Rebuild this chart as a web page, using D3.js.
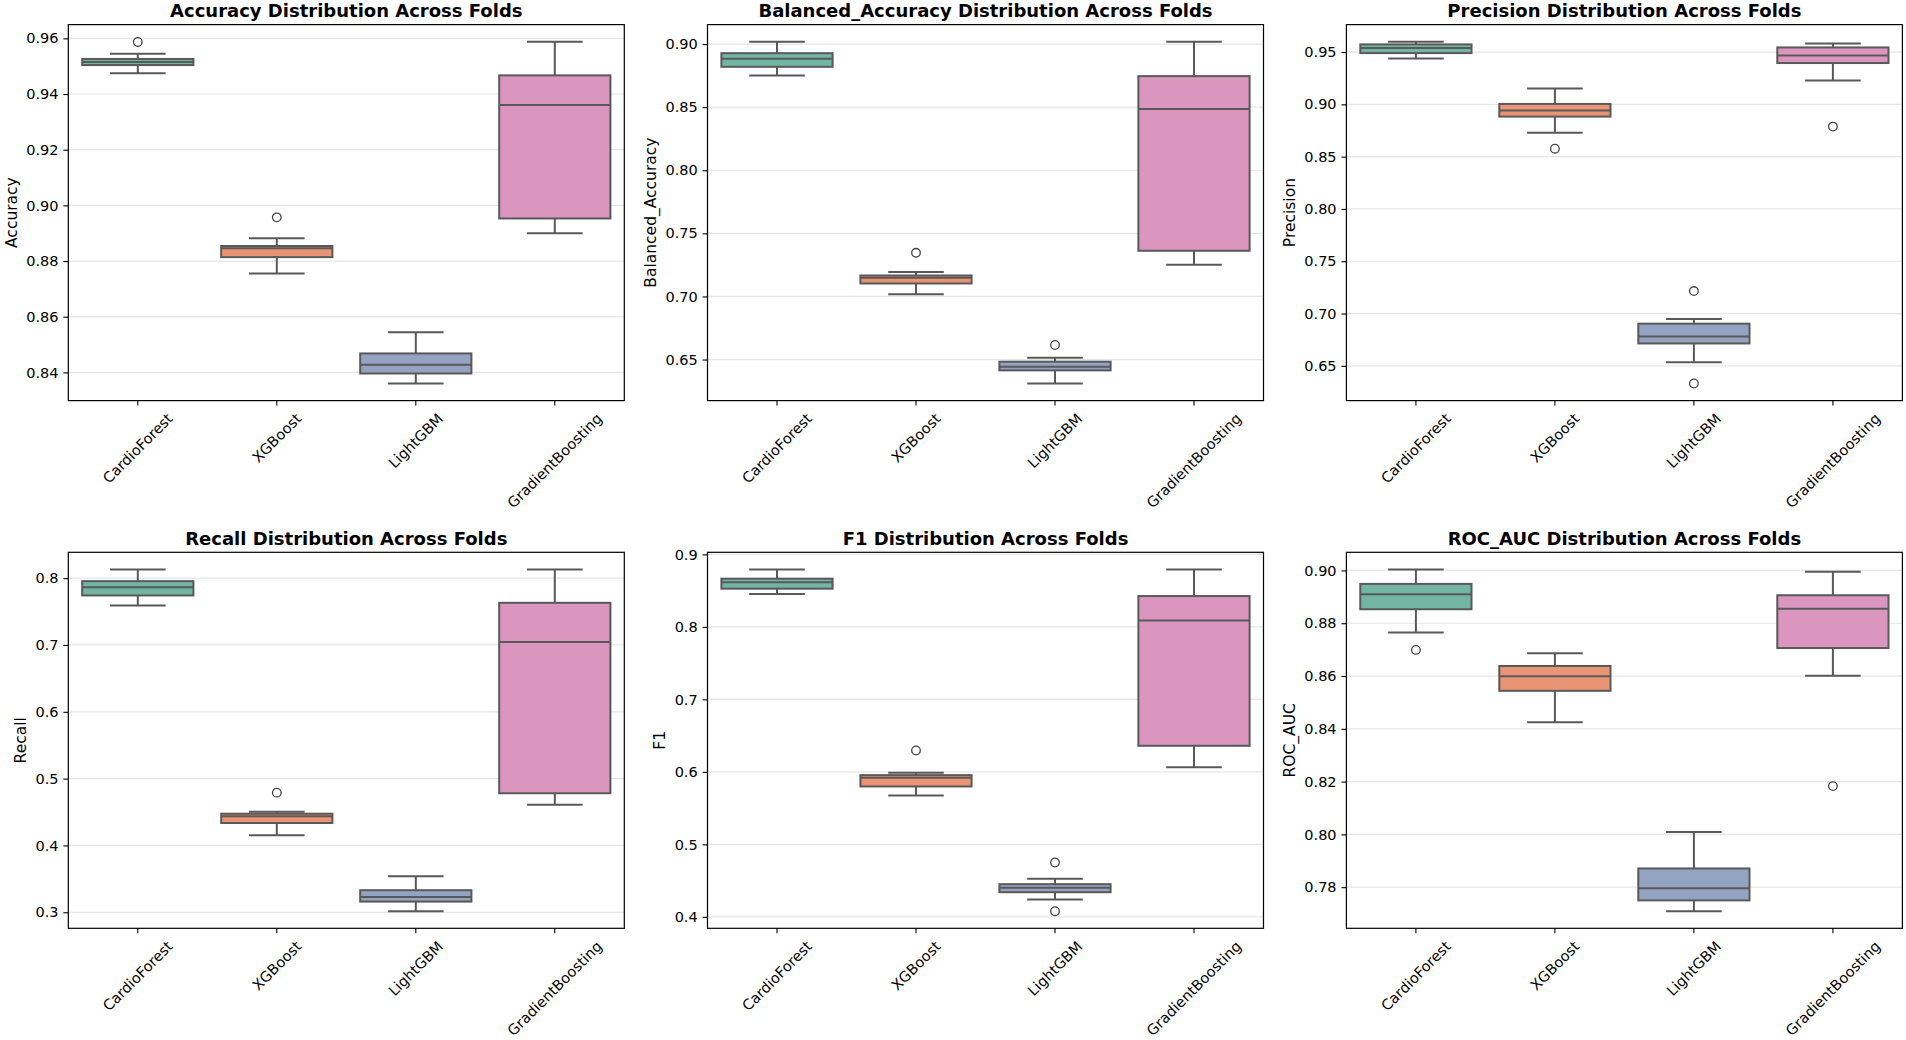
<!DOCTYPE html>
<html>
<head>
<meta charset="utf-8">
<script src="https://cdn.jsdelivr.net/npm/d3@7"></script>
<style>
  body { margin: 0; background: #fff; }
  svg { display: block; font-family: "DejaVu Sans", sans-serif; }
</style>
</head>
<body>
<svg id="chart" width="1906" height="1040"></svg>
<script>
const models = ['CardioForest', 'XGBoost', 'LightGBM', 'GradientBoosting'];
const palette = ['#72b6a1', '#e99575', '#95a3c3', '#db96c0'];

// each box: [lower whisker, q1, median, q3, upper whisker]
const accuracyBoxes = [
    [0.9475, 0.9504, 0.9515, 0.9526, 0.9545],
    [0.8755, 0.8814, 0.8846, 0.8854, 0.8882],
    [0.8360, 0.8396, 0.8427, 0.8468, 0.8544],
    [0.8900, 0.8953, 0.9361, 0.9467, 0.9588]
];
const accuracyOutliers = [[0.9587], [0.8957], [], []];
const accuracyTicks = [0.84, 0.86, 0.88, 0.90, 0.92, 0.94, 0.96];

const balancedBoxes = [
    [0.8751, 0.8820, 0.8883, 0.8928, 0.9019],
    [0.7018, 0.7103, 0.7148, 0.7166, 0.7193],
    [0.6310, 0.6414, 0.6443, 0.6483, 0.6515],
    [0.7251, 0.7362, 0.8486, 0.8746, 0.9019]
];
const balancedOutliers = [[], [0.7346], [0.6615], []];
const balancedTicks = [0.65, 0.70, 0.75, 0.80, 0.85, 0.90];

const precisionBoxes = [
    [0.9439, 0.9490, 0.9538, 0.9573, 0.9599],
    [0.8729, 0.8883, 0.8940, 0.9004, 0.9151],
    [0.6535, 0.6714, 0.6781, 0.6903, 0.6947],
    [0.9228, 0.9395, 0.9468, 0.9544, 0.9582]
];
const precisionOutliers = [[], [0.8576], [0.7215, 0.6331], [0.8787]];
const precisionTicks = [0.65, 0.70, 0.75, 0.80, 0.85, 0.90, 0.95];

const recallBoxes = [
    [0.7591, 0.7741, 0.7865, 0.7955, 0.8131],
    [0.4151, 0.4336, 0.4436, 0.4475, 0.4505],
    [0.3016, 0.3160, 0.3230, 0.3330, 0.3540],
    [0.4610, 0.4781, 0.7046, 0.7631, 0.8131]
];
const recallOutliers = [[], [0.4790], [], []];
const recallTicks = [0.3, 0.4, 0.5, 0.6, 0.7, 0.8];

const f1Boxes = [
    [0.8452, 0.8527, 0.8614, 0.8665, 0.8793],
    [0.5674, 0.5799, 0.5919, 0.5955, 0.5988],
    [0.4239, 0.4340, 0.4401, 0.4451, 0.4525],
    [0.6065, 0.6360, 0.8089, 0.8425, 0.8793]
];
const f1Outliers = [[], [0.6296], [0.4750, 0.4078], []];
const f1Ticks = [0.4, 0.5, 0.6, 0.7, 0.8, 0.9];

const rocBoxes = [
    [0.8765, 0.8853, 0.8910, 0.8949, 0.9004],
    [0.8425, 0.8544, 0.8599, 0.8638, 0.8686],
    [0.7709, 0.7750, 0.7796, 0.7871, 0.8009],
    [0.8601, 0.8706, 0.8855, 0.8906, 0.8995]
];
const rocOutliers = [[0.8699], [], [], [0.8183]];
const rocTicks = [0.78, 0.80, 0.82, 0.84, 0.86, 0.88, 0.90];

const panels = [
    { name: 'Accuracy', boxes: accuracyBoxes, outliers: accuracyOutliers, ticks: accuracyTicks, fmt: '.2f' },
    { name: 'Balanced_Accuracy', boxes: balancedBoxes, outliers: balancedOutliers, ticks: balancedTicks, fmt: '.2f' },
    { name: 'Precision', boxes: precisionBoxes, outliers: precisionOutliers, ticks: precisionTicks, fmt: '.2f' },
    { name: 'Recall', boxes: recallBoxes, outliers: recallOutliers, ticks: recallTicks, fmt: '.1f' },
    { name: 'F1', boxes: f1Boxes, outliers: f1Outliers, ticks: f1Ticks, fmt: '.1f' },
    { name: 'ROC_AUC', boxes: rocBoxes, outliers: rocOutliers, ticks: rocTicks, fmt: '.2f' }
];

const COL_LEFT = [68.3, 707.5, 1346.4];
const ROW_TOP = [24.6, 552.3];
const W = 556;
const H = 376;
const LINE = '#595959';
const TICK = 4.9;
const PAD = 4.9;

const svg = d3.select('#chart');

panels.forEach(function(p, i) {
    drawPanel(p, COL_LEFT[i % 3], ROW_TOP[Math.floor(i / 3)]);
});

function drawPanel(p, left, top) {
    var g = svg.append('g').attr('transform', 'translate(' + left + ',' + top + ')');

    // matplotlib style limits: data range plus 5% margins
    var all = [];
    p.boxes.forEach(function(b, k) { all = all.concat(b, p.outliers[k]); });
    var lo = d3.min(all), hi = d3.max(all), m = (hi - lo) * 0.05;

    var x = d3.scaleBand().domain(models).range([0, W]).padding(0);
    var y = d3.scaleLinear().domain([lo - m, hi + m]).range([H, 0]);

    // grid
    g.append('g')
        .selectAll('line')
        .data(p.ticks)
        .join('line')
        .attr('x1', 0).attr('x2', W)
        .attr('y1', d => y(d)).attr('y2', d => y(d))
        .attr('stroke', '#e6e6e6')
        .attr('stroke-width', 1.2);

    // boxes
    var bw = x.bandwidth() * 0.8;
    var cap = bw / 2;
    var boxes = g.append('g')
        .selectAll('g')
        .data(p.boxes)
        .join('g')
        .attr('transform', (d, k) => 'translate(' + (x(models[k]) + x.bandwidth() / 2) + ',0)');

    boxes.append('line')
        .attr('x1', 0).attr('x2', 0)
        .attr('y1', d => y(d[0])).attr('y2', d => y(d[1]))
        .attr('stroke', LINE).attr('stroke-width', 2);
    boxes.append('line')
        .attr('x1', 0).attr('x2', 0)
        .attr('y1', d => y(d[3])).attr('y2', d => y(d[4]))
        .attr('stroke', LINE).attr('stroke-width', 2);
    boxes.append('line')
        .attr('x1', -cap / 2).attr('x2', cap / 2)
        .attr('y1', d => y(d[0])).attr('y2', d => y(d[0]))
        .attr('stroke', LINE).attr('stroke-width', 2);
    boxes.append('line')
        .attr('x1', -cap / 2).attr('x2', cap / 2)
        .attr('y1', d => y(d[4])).attr('y2', d => y(d[4]))
        .attr('stroke', LINE).attr('stroke-width', 2);
    boxes.append('rect')
        .attr('x', -bw / 2).attr('width', bw)
        .attr('y', d => y(d[3]))
        .attr('height', d => y(d[1]) - y(d[3]))
        .attr('fill', (d, k) => palette[k])
        .attr('stroke', LINE).attr('stroke-width', 2);
    boxes.append('line')
        .attr('x1', -bw / 2).attr('x2', bw / 2)
        .attr('y1', d => y(d[2])).attr('y2', d => y(d[2]))
        .attr('stroke', LINE).attr('stroke-width', 2);

    boxes.each(function(d, k) {
        d3.select(this).selectAll('circle')
            .data(p.outliers[k])
            .join('circle')
            .attr('cx', 0)
            .attr('cy', v => y(v))
            .attr('r', 4.3)
            .attr('fill', 'none')
            .attr('stroke', '#444')
            .attr('stroke-width', 1.3);
    });

    // spines
    g.append('rect')
        .attr('width', W).attr('height', H)
        .attr('fill', 'none')
        .attr('stroke', '#000')
        .attr('stroke-width', 1.2);

    // y axis
    var ya = g.append('g')
        .call(d3.axisLeft(y).tickValues(p.ticks).tickFormat(d3.format(p.fmt))
            .tickSize(TICK).tickPadding(PAD));
    ya.select('.domain').remove();
    ya.selectAll('line').attr('stroke', '#000').attr('stroke-width', 1.1);
    ya.selectAll('text').attr('font-size', 14.5).attr('fill', '#000')
        .attr('font-family', '"DejaVu Sans", sans-serif');

    var tw = 0;
    ya.selectAll('text').each(function() { tw = Math.max(tw, this.getComputedTextLength()); });

    // x axis
    var xa = g.append('g')
        .attr('transform', 'translate(0,' + H + ')')
        .call(d3.axisBottom(x).tickSize(TICK).tickFormat(''));
    xa.select('.domain').remove();
    xa.selectAll('line').attr('stroke', '#000').attr('stroke-width', 1.1);

    models.forEach(function(name) {
        var t = g.append('text')
            .attr('font-size', 14.5)
            .attr('text-anchor', 'middle')
            .attr('dominant-baseline', 'central')
            .text(name);
        var w = t.node().getComputedTextLength();
        var cx = x(name) + x.bandwidth() / 2;
        var cy = H + TICK + PAD + (w + 16) / (2 * Math.SQRT2);
        t.attr('transform', 'translate(' + cx + ',' + cy + ') rotate(-45)');
    });

    // y label
    g.append('text')
        .attr('font-size', 15.5)
        .attr('text-anchor', 'middle')
        .attr('dominant-baseline', 'central')
        .attr('transform', 'translate(' + (-TICK - PAD - tw - 5.6 - 9) + ',' + (H / 2) + ') rotate(-90)')
        .text(p.name);

    // title
    g.append('text')
        .attr('x', W / 2)
        .attr('y', -7.8)
        .attr('font-size', 18)
        .attr('font-weight', 'bold')
        .attr('text-anchor', 'middle')
        .text(p.name + ' Distribution Across Folds');
}
</script>
</body>
</html>
